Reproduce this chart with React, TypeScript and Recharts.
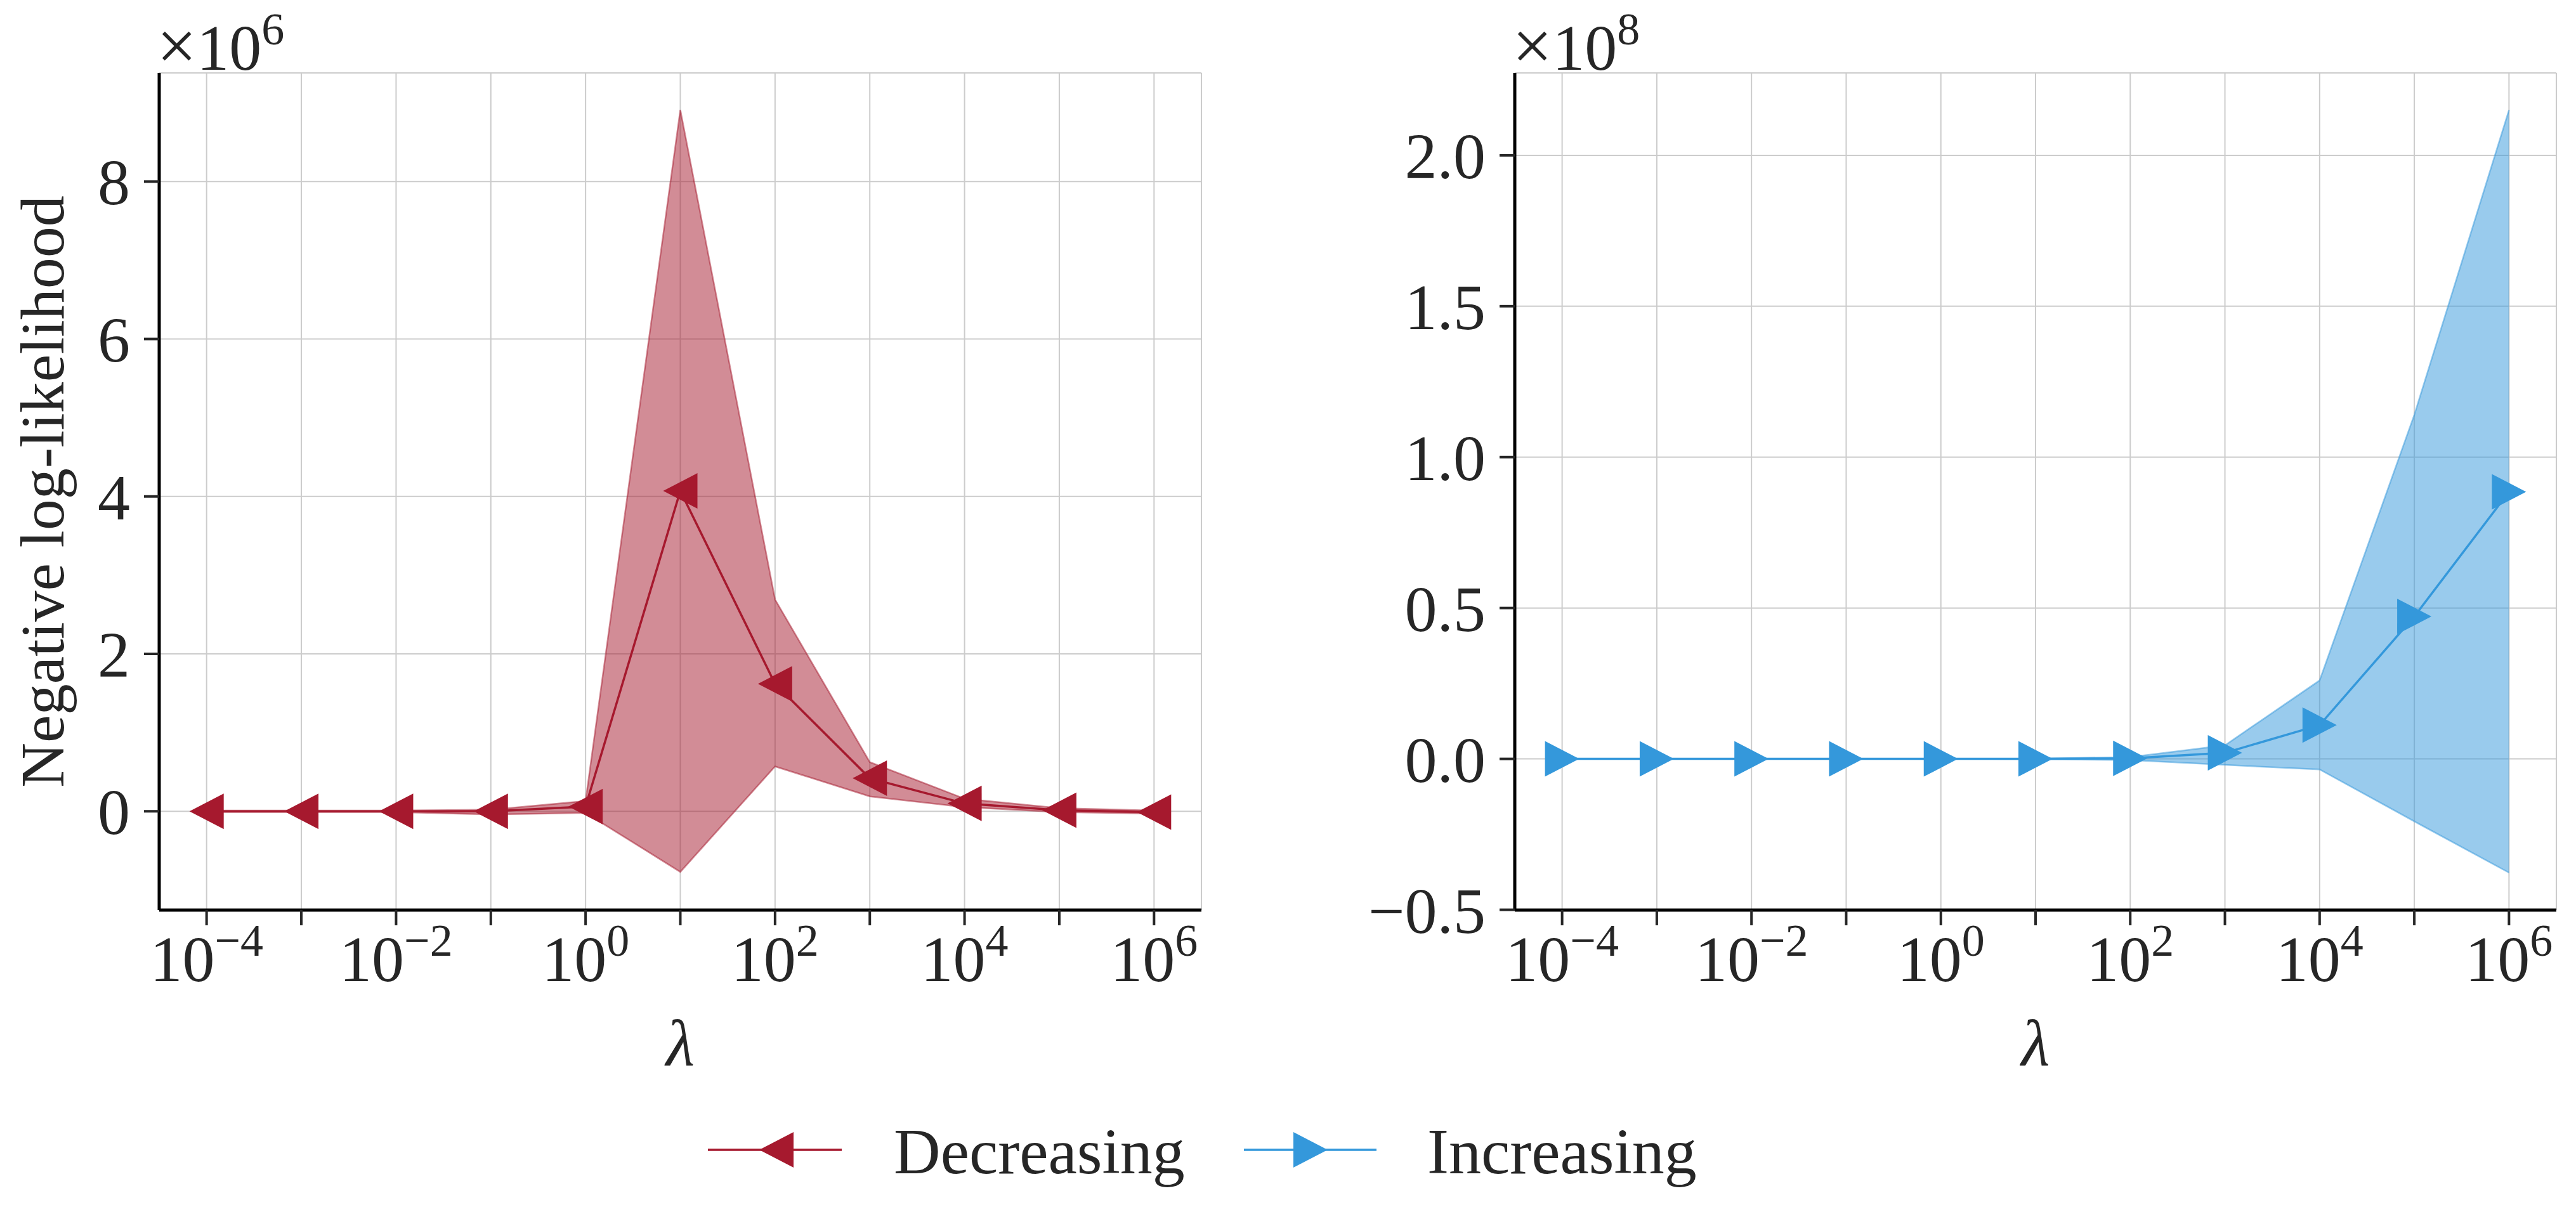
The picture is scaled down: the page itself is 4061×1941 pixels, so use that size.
import React from "react";
import { Area, CartesianGrid, ComposedChart, Line, XAxis, YAxis } from "recharts";

const FONT = "'Liberation Serif', 'DejaVu Serif', serif";
const TEXT = "#262626";
const RED = "#a6192e";
const BLUE = "#3498db";

// regularisation strengths (x axis, log scale)
const lambdas = [1e-4, 1e-3, 1e-2, 1e-1, 1e0, 1e1, 1e2, 1e3, 1e4, 1e5, 1e6];

// "Decreasing" run, values in units of 1e6
const decMean = [0, 0, 0, 0, 0.06, 4.07, 1.62, 0.42, 0.1, 0.013, -0.01];
const decLow = [-0.01, -0.01, -0.01, -0.04, -0.02, -0.77, 0.57, 0.19, 0.053, -0.01, -0.03];
const decHigh = [0.01, 0.01, 0.01, 0.02, 0.13, 8.91, 2.69, 0.625, 0.16, 0.04, 0.01];

// "Increasing" run, values in units of 1e8
const incMean = [0, 0, 0, 0, 0, 0, 0.002, 0.02, 0.112, 0.472, 0.885];
const incLow = [0, 0, 0, 0, 0, -0.001, -0.004, -0.02, -0.035, -0.207, -0.377];
const incHigh = [0, 0, 0, 0, 0, 0.001, 0.006, 0.045, 0.26, 1.14, 2.15];

const decTicks = [0, 2, 4, 6, 8];
const incTicks = [-0.5, 0, 0.5, 1, 1.5, 2];

const decRows = lambdas.map((l, i) => ({ lambda: l, mean: decMean[i], band: [decLow[i], decHigh[i]] }));
const incRows = lambdas.map((l, i) => ({ lambda: l, mean: incMean[i], band: [incLow[i], incHigh[i]] }));

const triangle = (cx: number, cy: number, dir: number) =>
  `M${cx - 27 * dir},${cy} L${cx + 27 * dir},${cy - 28} L${cx + 27 * dir},${cy + 28} Z`;

const makeDot = (color: string, dir: number) => (props: any) => {
  const { cx, cy, index } = props;
  if (cx == null || cy == null) return <g key={`d${index}`} />;
  return <path key={`d${index}`} d={triangle(cx, cy, dir)} fill={color} />;
};

const XTick = (props: any) => {
  const { x, y, payload } = props;
  const exp = Math.round(Math.log10(payload.value));
  if (exp % 2 !== 0) return <g />;
  return (
    <text x={x} y={y + 88} textAnchor="middle" fontFamily={FONT} fontSize={102} fill={TEXT}>
      <tspan>10</tspan>
      <tspan dy={-40} fontSize={72}>{exp < 0 ? `\u2212${-exp}` : `${exp}`}</tspan>
    </text>
  );
};

const fmtDec = (v: number) => `${v}`;
const fmtInc = (v: number) => (v < 0 ? `\u2212${(-v).toFixed(1)}` : v.toFixed(1));

const xLabel = (props: any) => {
  const vb = props.viewBox;
  return (
    <text x={vb.x + vb.width / 2} y={vb.y + 245} textAnchor="middle" fontFamily={FONT}
      fontStyle="italic" fontSize={104} fill={TEXT}>λ</text>
  );
};

const yLabel = (props: any) => {
  const vb = props.viewBox;
  const cx = vb.x + 69;
  const cy = vb.y + vb.height / 2;
  return (
    <text x={cx} y={cy} transform={`rotate(-90, ${cx}, ${cy})`} textAnchor="middle"
      fontFamily={FONT} fontSize={98} fill={TEXT}>Negative log-likelihood</text>
  );
};

type PanelProps = {
  rows: any[];
  color: string;
  dir: number;
  width: number;
  margin: { top: number; right: number; bottom: number; left: number };
  domain: [number, number];
  ticks: number[];
  fmt: (v: number) => string;
  showYLabel?: boolean;
};

const Panel = ({ rows, color, dir, width, margin, domain, ticks, fmt, showYLabel }: PanelProps) => (
  <ComposedChart width={width} height={1941} data={rows} margin={margin}>
    <CartesianGrid stroke="#cccccc" strokeWidth={2} />
    <XAxis
      dataKey="lambda"
      type="number"
      scale="log"
      domain={[10 ** -4.5, 10 ** 6.5]}
      allowDataOverflow
      ticks={lambdas}
      interval={0}
      height={300}
      tickSize={24}
      tickMargin={0}
      axisLine={{ stroke: "#000", strokeWidth: 5 }}
      tickLine={{ stroke: TEXT, strokeWidth: 4 }}
      tick={<XTick />}
      label={{ value: "λ", content: xLabel }}
    />
    <YAxis
      type="number"
      domain={domain}
      allowDataOverflow
      ticks={ticks}
      interval={0}
      width={220}
      tickSize={24}
      tickMargin={22}
      tickFormatter={fmt}
      axisLine={{ stroke: "#000", strokeWidth: 5 }}
      tickLine={{ stroke: TEXT, strokeWidth: 4 }}
      tick={{ fontFamily: FONT, fontSize: 102, fill: TEXT }}
      label={showYLabel ? { value: "Negative log-likelihood", content: yLabel } : undefined}
    />
    <Area
      type="linear"
      dataKey="band"
      stroke={color}
      strokeOpacity={0.5}
      strokeWidth={2.5}
      fill={color}
      fillOpacity={0.5}
      isAnimationActive={false}
      dot={false}
      activeDot={false}
    />
    <Line
      type="linear"
      dataKey="mean"
      stroke={color}
      strokeWidth={3.5}
      dot={makeDot(color, dir)}
      activeDot={false}
      isAnimationActive={false}
    />
  </ComposedChart>
);

const Sci = ({ x, exp }: { x: number; exp: number }) => (
  <text x={x} y={110} fontFamily={FONT} fontSize={102} fill={TEXT}>
    <tspan fontSize={112}>×</tspan>
    <tspan>10</tspan>
    <tspan dy={-40} fontSize={72}>{exp}</tspan>
  </text>
);

export default function App() {
  return (
    <div style={{ position: "absolute", left: 0, top: 0, width: 4061, height: 1941, background: "#fff" }}>
      <div style={{ position: "absolute", left: 0, top: 0 }}>
        <Panel
          rows={decRows}
          color={RED}
          dir={1}
          width={1950}
          margin={{ top: 115, right: 56, bottom: 206, left: 31 }}
          domain={[-1.255, 9.38]}
          ticks={decTicks}
          fmt={fmtDec}
          showYLabel
        />
      </div>
      <div style={{ position: "absolute", left: 2061, top: 0 }}>
        <Panel
          rows={incRows}
          color={BLUE}
          dir={-1}
          width={2000}
          margin={{ top: 115, right: 31, bottom: 206, left: 107 }}
          domain={[-0.501, 2.273]}
          ticks={incTicks}
          fmt={fmtInc}
        />
      </div>
      <svg width={4061} height={1941} style={{ position: "absolute", left: 0, top: 0, pointerEvents: "none" }}>
        <Sci x={247} exp={6} />
        <Sci x={2384} exp={8} />
        {/* legend */}
        <line x1={1116} x2={1327} y1={1813} y2={1813} stroke={RED} strokeWidth={3.5} />
        <path d={triangle(1224, 1813, 1)} fill={RED} />
        <text x={1409} y={1850} fontFamily={FONT} fontSize={102} fill={TEXT}>Decreasing</text>
        <line x1={1961} x2={2170} y1={1813} y2={1813} stroke={BLUE} strokeWidth={3.5} />
        <path d={triangle(2066, 1813, -1)} fill={BLUE} />
        <text x={2250} y={1850} fontFamily={FONT} fontSize={102} fill={TEXT}>Increasing</text>
      </svg>
    </div>
  );
}
